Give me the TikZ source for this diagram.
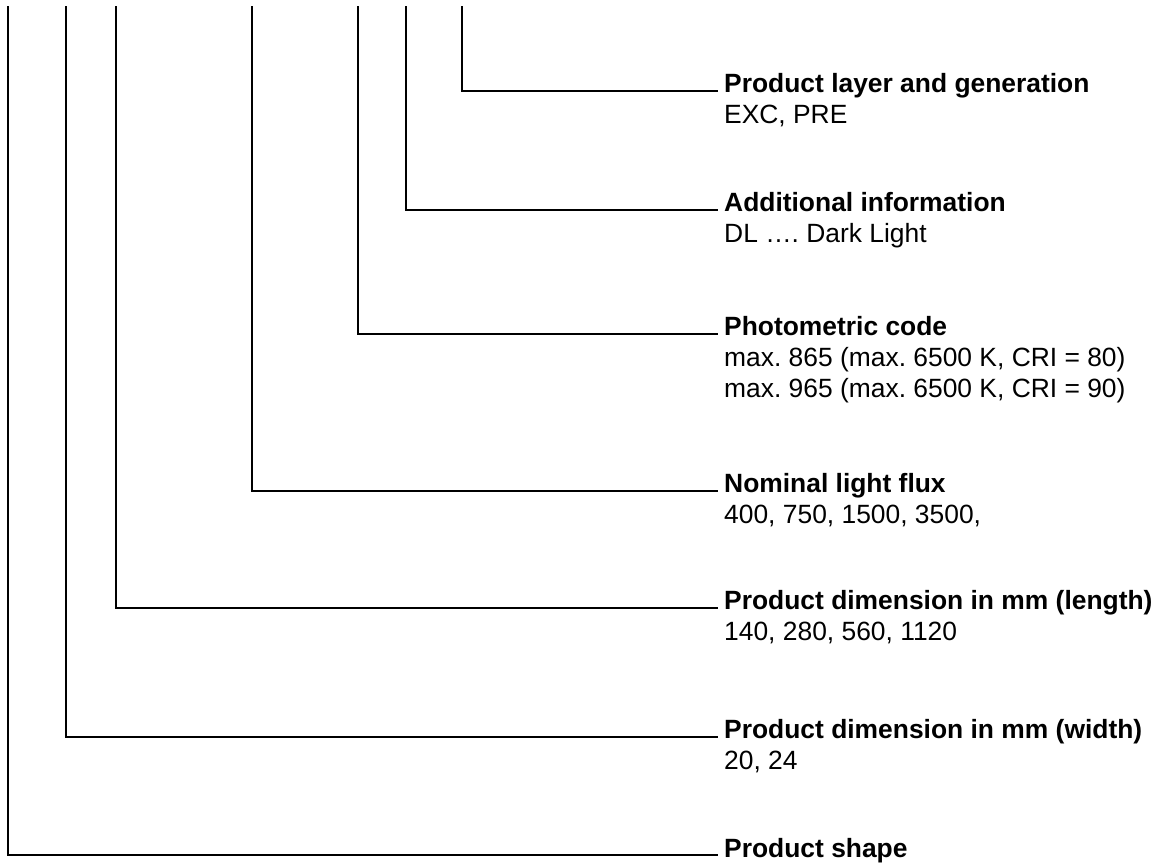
\documentclass[tikz,border=0pt]{standalone}
\usepackage{fontspec}
\setmainfont{Liberation Sans}
\frenchspacing
\newcommand{\lbltext}[2]{\begin{tabular}[t]{@{}l@{}}\textbf{#1}#2\end{tabular}}
\begin{document}
\begin{tikzpicture}[x=1pt,y=1pt,
  lbl/.style={anchor=base west,inner sep=0pt,font=\fontsize{26.4}{31}\selectfont},
  leader/.style={line width=1.4pt,line join=miter,line cap=rect}]
\useasboundingbox (0,0) rectangle (1163,863);
% tops of the leaders
\coordinate (t1) at (8,856);
\coordinate (t2) at (66,856);
\coordinate (t3) at (116,856);
\coordinate (t4) at (252,856);
\coordinate (t5) at (358,856);
\coordinate (t6) at (406,856);
\coordinate (t7) at (462,856);
% labels (title baseline y = 863 - line y - 2)
\node[lbl] (n7) at (724,770) {\lbltext{Product layer and generation}{\\EXC, PRE}};
\node[lbl] (n6) at (724,651) {\lbltext{Additional information}{\\DL …. Dark Light}};
\node[lbl] (n5) at (724,527) {\lbltext{Photometric code}{\\max. 865 (max. 6500 K, CRI = 80)\\max. 965 (max. 6500 K, CRI = 90)}};
\node[lbl] (n4) at (724,370) {\lbltext{Nominal light flux}{\\400, 750, 1500, 3500,}};
\node[lbl] (n3) at (724,253) {\lbltext{Product dimension in mm (length)}{\\140, 280, 560, 1120}};
\node[lbl] (n2) at (724,124) {\lbltext{Product dimension in mm (width)}{\\20, 24}};
\node[lbl] (n1) at (724,6) {\lbltext{Product shape}{}};
% leaders
\foreach \i in {1,...,7}{
  \draw[leader] (t\i) |- ([xshift=-7pt,yshift=2pt]n\i.base west);
}
\end{tikzpicture}
\end{document}
